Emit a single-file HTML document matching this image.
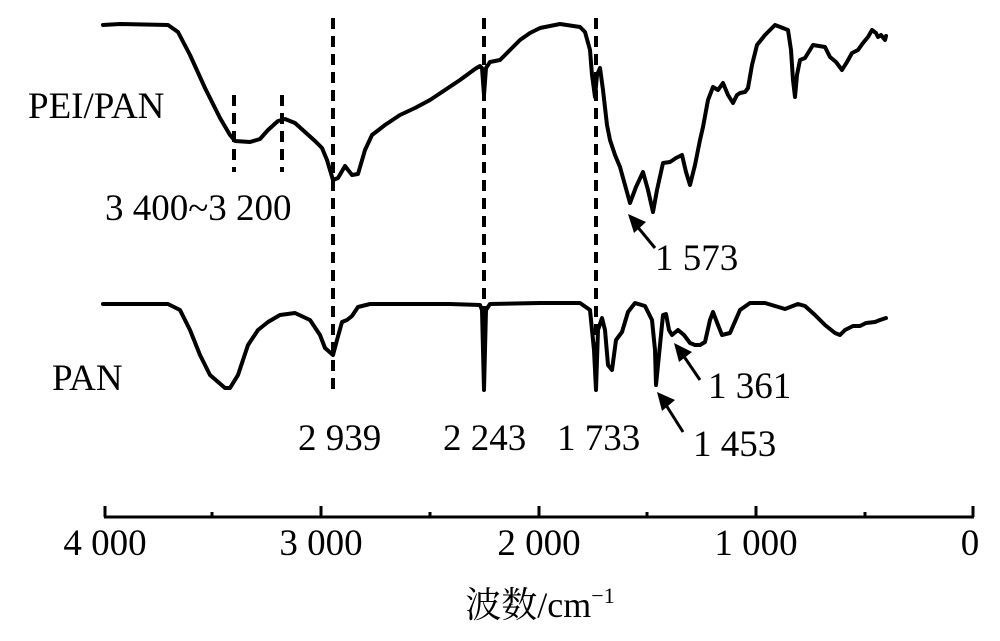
<!DOCTYPE html>
<html><head><meta charset="utf-8"><style>html,body{margin:0;padding:0;background:#fff}</style></head>
<body>
<svg width="1000" height="636" viewBox="0 0 1000 636" xmlns="http://www.w3.org/2000/svg" font-family="Liberation Serif, 'Noto Serif CJK SC', serif" fill="#000">
<g fill="none" stroke="#000" stroke-width="4" stroke-linejoin="round" stroke-linecap="round">
<polyline points="103,25 120,24 168,25 178,32 190,55 205,88 220,118 230,135 235,141 250,142 260,139 268,130 278,121 285,119 295,123 305,132 315,141 322,148 327,160 333,180 338,178 345,166 352,175 358,174 365,150 372,135 385,125 400,115 415,108 430,100 445,90 460,80 475,69 480,66 482,68 484,95 486,68 490,62 500,60 510,50 520,40 530,33 540,28 560,24 580,27 585,32 590,50 592,75 595,97 597,75 600,68 603,90 607,125 610,140 615,155 620,167 625,185 630,203 636,187 643,172 648,190 653,212 657,190 663,163 670,162 676,158 682,155 686,172 690,185 695,165 700,140 703,127 708,100 713,87 718,90 723,83 728,95 733,103 737,95 740,93 745,92 748,88 752,65 757,45 765,35 775,25 788,30 791,50 793,80 795,97 797,75 800,60 805,58 813,45 825,47 830,57 836,62 842,70 847,62 852,53 858,50 863,43 868,37 872,30 876,33 878,37 881,35 885,40 886,36"/>
<polyline points="103,304 168,304 180,310 190,330 200,355 210,375 225,388 230,388 238,375 248,345 258,330 268,322 280,315 295,313 310,320 320,335 325,348 333,355 337,340 342,322 347,320 352,316 358,307 370,304 450,304 480,305 482,310 484,390 486,310 490,304 540,303 580,303 590,310 594,350 596,390 598,330 602,318 605,330 608,365 612,370 616,340 622,332 628,312 635,303 645,306 652,320 655,350 656,385 660,345 663,315 666,314 669,330 672,335 678,330 684,335 690,343 695,345 700,345 705,342 710,320 713,312 718,325 722,335 730,333 740,310 750,303 765,303 775,306 785,309 798,304 805,306 815,315 825,325 835,333 840,335 845,330 853,326 860,326 866,323 875,322 880,320 886,318"/>
</g>
<g stroke="#000" stroke-width="4" stroke-dasharray="11,7" fill="none">
<line x1="234" y1="95" x2="234" y2="172"/>
<line x1="282" y1="95" x2="282" y2="172"/>
<line x1="333" y1="18" x2="333" y2="396"/>
<line x1="484" y1="18" x2="484" y2="396"/>
<line x1="596" y1="18" x2="596" y2="396"/>
</g>
<!-- arrows -->
<g stroke="#000" stroke-width="3">
<line x1="655" y1="248" x2="636" y2="225"/>
<line x1="700" y1="380" x2="683" y2="355"/>
<line x1="683" y1="432" x2="666" y2="405"/>
</g>
<polygon points="628,214 646,222 634,233"/>
<polygon points="674,343 692,352 679,362"/>
<polygon points="657,392 675,400 662,411"/>
<!-- axis -->
<g stroke="#000" stroke-width="3" fill="none">
<line x1="104" y1="517" x2="974" y2="517"/>
<line x1="105" y1="506" x2="105" y2="517"/>
<line x1="321" y1="506" x2="321" y2="517"/>
<line x1="539" y1="506" x2="539" y2="517"/>
<line x1="756" y1="506" x2="756" y2="517"/>
<line x1="973" y1="506" x2="973" y2="517"/>
<line x1="212" y1="512" x2="212" y2="517"/>
<line x1="430" y1="512" x2="430" y2="517"/>
<line x1="647" y1="512" x2="647" y2="517"/>
<line x1="865" y1="512" x2="865" y2="517"/>
</g>
<g font-size="37" text-anchor="middle">
<text x="105" y="555">4 000</text>
<text x="321" y="555">3 000</text>
<text x="539" y="555">2 000</text>
<text x="756" y="555">1 000</text>
<text x="970" y="555">0</text>
</g>
<text x="540" y="617" font-size="36" text-anchor="middle">波数/cm<tspan font-size="22" dy="-14">−1</tspan></text>
<g font-size="37">
<text x="28" y="118">PEI/PAN</text>
<text x="52" y="390">PAN</text>
<text x="105" y="220">3 400~3 200</text>
<text x="655" y="270">1 573</text>
<text x="298" y="450">2 939</text>
<text x="443" y="450">2 243</text>
<text x="557" y="450">1 733</text>
<text x="708" y="398">1 361</text>
<text x="693" y="456">1 453</text>
</g>
</svg>
</body></html>
